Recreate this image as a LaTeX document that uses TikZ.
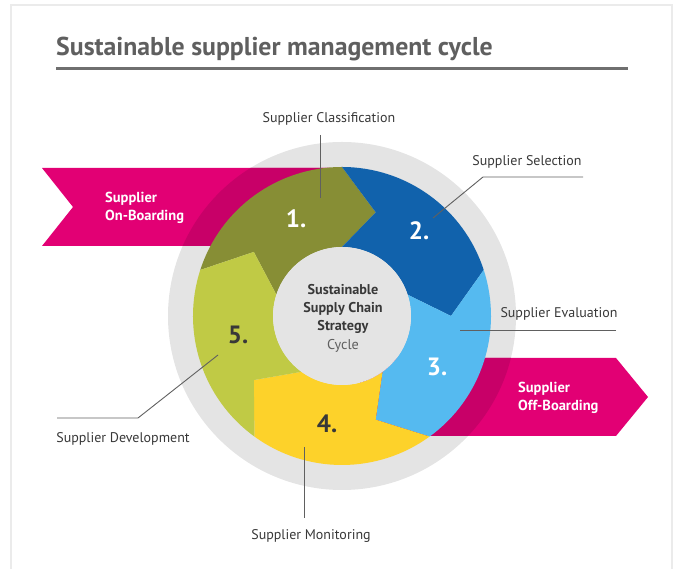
\documentclass[tikz,border=0pt]{standalone}
\usepackage{fontspec}
\setmainfont{PT Sans}
\usetikzlibrary{calc}
\definecolor{tmagenta}{HTML}{E20074}
\definecolor{tmagdark}{HTML}{C80068}
\definecolor{segolive}{HTML}{878E35}
\definecolor{segblue}{HTML}{1162AC}
\definecolor{seglight}{HTML}{55BAF0}
\definecolor{segyellow}{HTML}{FDD22A}
\definecolor{seggreen}{HTML}{C0CA45}
\definecolor{ringgray}{HTML}{E4E4E4}
\definecolor{framegray}{HTML}{EBEBEB}
\definecolor{titlegray}{HTML}{5F5F5F}
\definecolor{txtgray}{HTML}{383838}

\begin{document}
\begin{tikzpicture}[x=1pt,y=1pt,
    label/.style={font=\fontsize{14}{16}\selectfont,text=txtgray,inner sep=0pt},
    leader/.style={draw=txtgray!80,line width=0.9pt},
    num/.style={font=\fontsize{25}{28}\selectfont\bfseries,inner sep=0pt},
    ribbontext/.style={font=\fontsize{14.5}{18}\selectfont\bfseries,text=white,align=left,inner sep=0pt,anchor=west}]
  \useasboundingbox (0,0) rectangle (680,569);
  % frame and title
  \draw[framegray,line width=1.5pt] (11,0) -- (11,564) -- (672,564) -- (672,0);
  \node[anchor=base west,inner sep=0pt,text=titlegray,font=\fontsize{25.8}{28}\selectfont\bfseries] (title) at (56,513) {Sustainable supplier management cycle};
  \draw[titlegray!90,line width=3pt] (56,500) -- (628,500);

  \coordinate (c) at (342,253);
  \fill[ringgray] (c) circle (174);

  % ribbons
  \def\onboard{(42,401) -- (330,401) -- (330,323) -- (42,323) -- (73,362) -- cycle}
  \def\offboard{(360,211) -- (616,211) -- (648,172) -- (616,133) -- (360,133) -- cycle}
  \fill[tmagenta] \onboard;
  \fill[tmagenta] \offboard;
  \begin{scope}
    \clip (c) circle (174);
    \fill[tmagdark] \onboard;
    \fill[tmagdark] \offboard;
  \end{scope}

  % the five arrow segments
  \foreach \col [count=\i] in {segolive,segblue,seglight,segyellow,seggreen} {
    \pgfmathsetmacro\a{234-72*\i}
    \fill[\col] ($(c)+(\a:149)$) arc[start angle=\a, end angle=\a-72, radius=149]
      -- ($(c)+(\a-90:109)$) -- ($(c)+(\a-72:69)$)
      arc[start angle=\a-72, end angle=\a, radius=69]
      -- ($(c)+(\a-18:109)$) -- cycle;
  }
  \fill[ringgray] (c) circle (69);

  \node[align=center,inner sep=0pt,text=txtgray,font=\fontsize{14.2}{18.3}\selectfont] (core) at (343,251)
    {\textbf{Sustainable}\\\textbf{Supply Chain}\\\textbf{Strategy}\\{\color{titlegray}Cycle}};

  \node[num,text=white] (n1) at (296,350) {1.};
  \node[num,text=white] (n2) at (419,338) {2.};
  \node[num,text=white] (n3) at (437,202) {3.};
  \node[num,text=txtgray] (n4) at (327,145) {4.};
  \node[num,text=txtgray] (n5) at (238,234) {5.};

  \node[ribbontext] (on) at (105,361) {Supplier\\On-Boarding};
  \node[ribbontext] (off) at (518,171) {Supplier\\Off-Boarding};

  % labels with leader lines
  \node[label] (cls) at (329,450) {Supplier Classification};
  \node[label] (sel) at (527,407) {Supplier Selection};
  \node[label] (eva) at (559,255) {Supplier Evaluation};
  \node[label] (dev) at (123,130) {Supplier Development};
  \node[label] (mon) at (311,33) {Supplier Monitoring};

  \coordinate (clsA) at (320,434); \coordinate (clsB) at (320,371);
  \coordinate (selA) at (583,392); \coordinate (selB) at (483,392); \coordinate (selC) at (433,351);
  \coordinate (evaA) at (616,239); \coordinate (evaB) at (460,239);
  \coordinate (devA) at (57,151); \coordinate (devB) at (138,151); \coordinate (devC) at (218,214);
  \coordinate (monA) at (304,122); \coordinate (monB) at (304,51);
  \draw[leader] (clsA) -- (clsB);
  \draw[leader] (selA) -- (selB) -- (selC);
  \draw[leader] (evaA) -- (evaB);
  \draw[leader] (devA) -- (devB) -- (devC);
  \draw[leader] (monA) -- (monB);
\end{tikzpicture}
\end{document}
